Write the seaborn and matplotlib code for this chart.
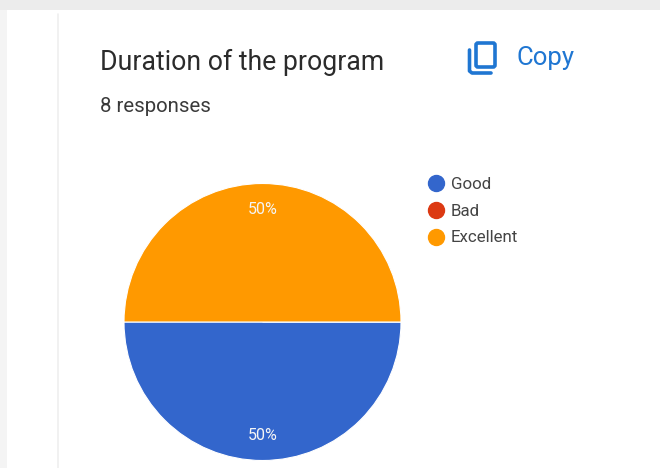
import matplotlib
matplotlib.use('Agg')
import matplotlib.pyplot as plt
import seaborn as sns
from matplotlib.lines import Line2D
from matplotlib.patches import FancyBboxPatch, Rectangle

categories = ['Good', 'Bad', 'Excellent']
values = [50, 0, 50]
colors = ['#3366cc', '#dc3912', '#ff9900']
title = 'Duration of the program'
subtitle = '8 responses'

W, H = 660, 468

sns.set_theme(style='white')
plt.rcParams['font.family'] = ['Roboto', 'DejaVu Sans']

fig = plt.figure(figsize=(W / 100, H / 100), dpi=100, facecolor='white')

# background layer in pixel coords, y going down like the screenshot
bg = fig.add_axes([0, 0, 1, 1])
bg.set_xlim(0, W)
bg.set_ylim(H, 0)
bg.axis('off')

# card shadow along the top and left
bg.add_patch(Rectangle((0, 0), W, 10, color='#ececec', lw=0))
bg.add_patch(Rectangle((0, 10), 7, H, color='#f4f4f4', lw=0))
bg.plot([58, 58], [14, H], color='#efefef', lw=1.2)

bg.text(100, 62, title, fontsize=19.2, color='#2b2b2b', va='center', ha='left')
bg.text(100, 107, subtitle, fontsize=14.7, color='#3a3a3a', va='center', ha='left')

# copy icon
blue = '#1f76d2'
bg.add_patch(FancyBboxPatch((476, 43), 19, 24, boxstyle='round,pad=0,rounding_size=2',
                            fill=False, ec=blue, lw=2.6))
bg.plot([469.5, 469.5, 472, 491], [50, 71, 73, 73], color=blue, lw=2.6, solid_capstyle='round')
bg.text(516, 58, 'Copy', fontsize=18.5, color=blue, va='center', ha='left')

# pie
ax = fig.add_axes([124 / W, (H - 460.5) / H, 277 / W, 277 / H])
wedges, _ = ax.pie(values, colors=colors, startangle=180, counterclock=True, radius=1,
                   wedgeprops={'edgecolor': 'white', 'linewidth': 0.8})
ax.set_xlim(-1, 1)
ax.set_ylim(-1, 1)
ax.text(0, 0.81, '50%', color='#f5f5f5', fontsize=11.5, ha='center', va='center')
ax.text(0, -0.82, '50%', color='#f5f5f5', fontsize=11.5, ha='center', va='center')

# legend
handles = [Line2D([], [], marker='o', linestyle='none', markersize=11.5, color=c) for c in colors]
bg.legend(handles, categories, loc='upper left', bbox_to_anchor=(424 / W, 1 - 174 / H),
          frameon=False, fontsize=12.2, labelcolor='#444444', labelspacing=0.68,
          handlelength=1, handletextpad=0.39, borderpad=0.2, borderaxespad=0)

fig.savefig('out.png', dpi=100)
